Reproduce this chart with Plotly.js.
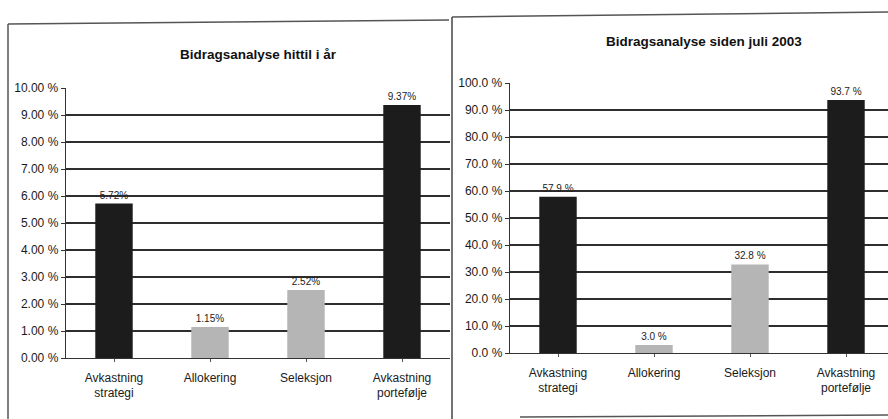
<!DOCTYPE html>
<html><head><meta charset="utf-8">
<script src="https://cdn.plot.ly/plotly-3.0.1.min.js"></script>
<style>html,body{margin:0;padding:0;background:#fff}#chart{width:888px;height:419px}</style>
</head><body><div id="chart"></div>
<script>
const categories = ["Avkastning<br>strategi", "Allokering", "Seleksjon", "Avkastning<br>portefølje"];
const valuesYtd = [5.72, 1.15, 2.52, 9.37];
const valuesSince = [57.9, 3.0, 32.8, 93.7];
const barColors = ["#1c1c1c", "#b5b5b5", "#b5b5b5", "#1c1c1c"];
const titleLeft = "Bidragsanalyse hittil i år";
const titleRight = "Bidragsanalyse siden juli 2003";
const ticksLeft = [0,1,2,3,4,5,6,7,8,9,10];
const ticksRight = [0,10,20,30,40,50,60,70,80,90,100];

const W = 888, H = 419;
const px = v => v / W, py = v => 1 - v / H;
const font = "'Liberation Sans', Arial, sans-serif";

const traces = [
  {type:'bar', x:[0,1,2,3], y:valuesYtd, xaxis:'x', yaxis:'y', width:0.39,
   marker:{color:barColors}, text:valuesYtd.map(v=>v.toFixed(2)+'%'), textposition:'outside',
   textfont:{family:font, size:10, color:'#222'}, cliponaxis:false, hoverinfo:'none'},
  {type:'bar', x:[0,1,2,3], y:valuesSince, xaxis:'x2', yaxis:'y2', width:0.39,
   marker:{color:barColors}, text:valuesSince.map(v=>v.toFixed(1)+' %'), textposition:'outside',
   textfont:{family:font, size:10, color:'#222'}, cliponaxis:false, hoverinfo:'none'}
];

const gridCol = '#2e2e2e';
const xCommon = {tickmode:'array', tickvals:[0,1,2,3], ticktext:categories, showline:true, linecolor:'#333', linewidth:1.3,
  ticks:'outside', tickson:'boundaries', ticklen:3, tickcolor:'#555', showgrid:false, zeroline:false,
  ticklabelstandoff:5,
  tickfont:{family:font, size:12, color:'#1a1a1a'}, fixedrange:true};
const yCommon = {showline:true, linecolor:'#333', linewidth:1.3, ticks:'outside', ticklen:4, tickcolor:'#333',
  showgrid:true, gridcolor:gridCol, gridwidth:1.6, zeroline:false, tickmode:'array',
  tickfont:{family:font, size:12, color:'#1a1a1a'}, fixedrange:true};

const layout = {
  width:W, height:H, margin:{l:0,r:0,t:0,b:0}, paper_bgcolor:'#fff', plot_bgcolor:'#fff', showlegend:false,
  xaxis: Object.assign({}, xCommon, {domain:[px(66), px(450)], range:[-0.5,3.5], anchor:'y'}),
  yaxis: Object.assign({}, yCommon, {domain:[py(358), py(88)], range:[0,10], anchor:'x',
     tickvals:ticksLeft, ticktext:ticksLeft.map(v=>v.toFixed(2)+' %')}),
  xaxis2: Object.assign({}, xCommon, {domain:[px(510), 1], range:[-0.5, -0.5 + 378/96], anchor:'y2'}),
  yaxis2: Object.assign({}, yCommon, {domain:[py(353), py(83)], range:[0,100], anchor:'x2',
     tickvals:ticksRight, ticktext:ticksRight.map(v=>v.toFixed(1)+' %')}),
  annotations:[
    {text:'<b>'+titleLeft+'</b>', xref:'paper', yref:'paper', x:px(258), y:py(54), showarrow:false,
     font:{family:font, size:13.5, color:'#111'}, xanchor:'center', yanchor:'middle'},
    {text:'<b>'+titleRight+'</b>', xref:'paper', yref:'paper', x:px(704), y:py(42), showarrow:false,
     font:{family:font, size:13.5, color:'#111'}, xanchor:'center', yanchor:'middle'}
  ],
  shapes:[
    {type:'line', xref:'paper', yref:'paper', x0:px(8), x1:px(449), y0:py(24), y1:py(20), line:{color:'#555', width:1.5}},
    {type:'line', xref:'paper', yref:'paper', x0:px(8), x1:px(8), y0:py(24), y1:0, line:{color:'#555', width:1.5}},
    {type:'line', xref:'paper', yref:'paper', x0:px(452), x1:1, y0:py(17), y1:py(12), line:{color:'#555', width:1.5}},
    {type:'line', xref:'paper', yref:'paper', x0:px(452), x1:px(452), y0:py(17), y1:0, line:{color:'#444', width:1.5}},
    {type:'line', xref:'paper', yref:'paper', x0:px(520), x1:1, y0:py(417), y1:py(415), line:{color:'#555', width:1.5}}
  ]
};
Plotly.newPlot('chart', traces, layout, {staticPlot:true, displayModeBar:false});
</script></body></html>
